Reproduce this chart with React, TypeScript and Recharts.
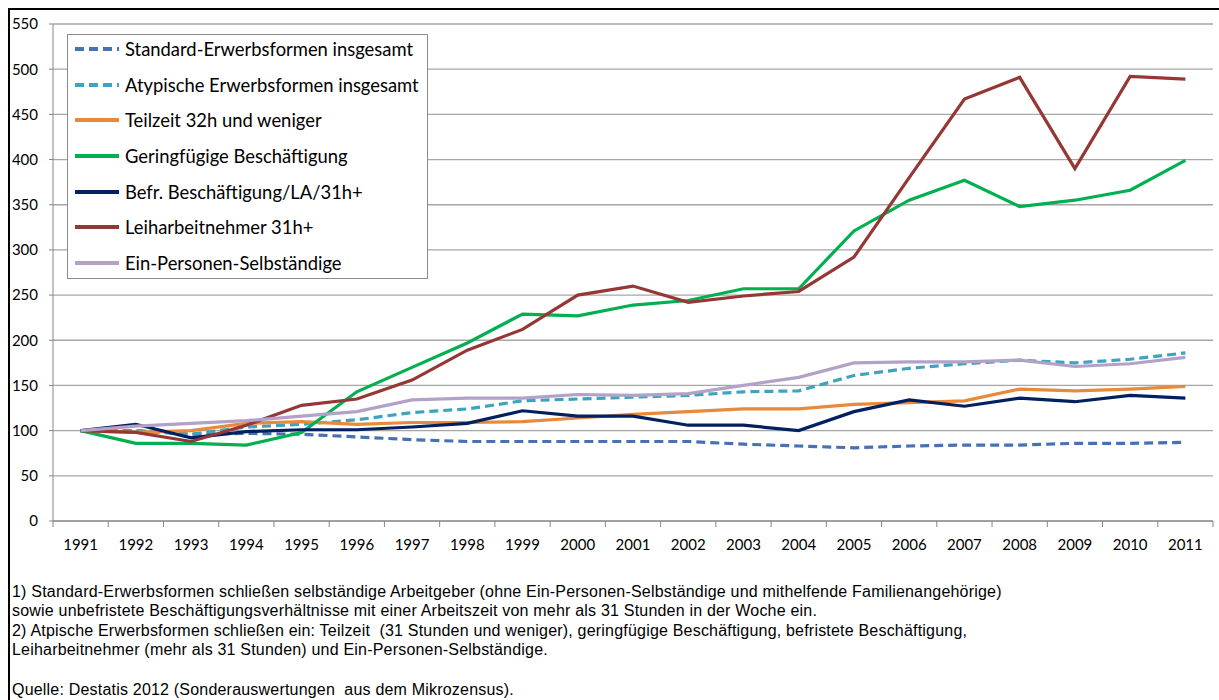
import React from 'react';
import { LineChart, Line, XAxis, YAxis, CartesianGrid } from 'recharts';

const years = ['1991','1992','1993','1994','1995','1996','1997','1998','1999','2000','2001','2002','2003','2004','2005','2006','2007','2008','2009','2010','2011'];

const standard = [100,100,96,97,96,93,90,88,88,88,88,88,85,83,81,83,84,84,86,86,87];
const atypisch = [100,100,96,104,107,112,120,124,133,135,137,139,143,144,161,169,174,178,175,179,186];
const teilzeit = [100,98,100,108,110,107,109,109,110,114,118,121,124,124,129,131,133,146,144,146,149];
const geringfuegig = [100,86,86,84,98,143,170,197,229,227,239,244,257,257,321,355,377,348,355,366,399];
const befristet = [100,107,92,99,101,101,104,108,122,116,116,106,106,100,121,134,127,136,132,139,136];
const leiharbeit = [100,98,88,106,128,135,156,189,212,250,260,242,249,254,292,380,467,491,390,492,489];
const einPersonen = [100,105,108,111,116,121,134,136,136,140,139,141,150,159,175,176,176,178,171,174,181];

const seriesNames = [
  'Standard-Erwerbsformen insgesamt',
  'Atypische Erwerbsformen insgesamt',
  'Teilzeit 32h und weniger',
  'Geringfügige Beschäftigung',
  'Befr. Beschäftigung/LA/31h+',
  'Leiharbeitnehmer 31h+',
  'Ein-Personen-Selbständige',
];
const seriesValues = [standard, atypisch, teilzeit, geringfuegig, befristet, leiharbeit, einPersonen];
const seriesColors = ['#4672B4', '#3FA3BE', '#E8893B', '#00B050', '#002060', '#953735', '#B3A2C7'];
const seriesDashed = [true, true, false, false, false, false, false];

const yTicks = [0, 50, 100, 150, 200, 250, 300, 350, 400, 450, 500, 550];

const footnoteLines = [
  '1) Standard-Erwerbsformen schließen selbständige Arbeitgeber (ohne Ein-Personen-Selbständige und mithelfende Familienangehörige)',
  'sowie unbefristete Beschäftigungsverhältnisse mit einer Arbeitszeit von mehr als 31 Stunden in der Woche ein.',
  '2) Atpische Erwerbsformen schließen ein: Teilzeit  (31 Stunden und weniger), geringfügige Beschäftigung, befristete Beschäftigung,',
  'Leiharbeitnehmer (mehr als 31 Stunden) und Ein-Personen-Selbständige.',
];
const sourceLine = 'Quelle: Destatis 2012 (Sonderauswertungen  aus dem Mikrozensus).';

const data = years.map((year, i) => {
  const row: Record<string, number | string> = { x: i + 0.5, year };
  seriesValues.forEach((vals, k) => {
    row['s' + k] = vals[i];
  });
  return row;
});

const AXIS_GREY = '#868686';
const GRID_GREY = '#A6A6A6';
const FONT = "Lato, 'Open Sans', sans-serif";

const XTick = (props: any) => {
  const { x, y, payload, index } = props;
  const w = typeof props.width === 'number' && props.width > 0 ? props.width : 1160;
  const half = w / years.length / 2;
  const label = years[Math.floor(payload.value)];
  return (
    <g>
      <line x1={x - half} y1={y} x2={x - half} y2={y + 6} stroke={AXIS_GREY} strokeWidth={1} />
      {index === years.length - 1 && (
        <line x1={x + half} y1={y} x2={x + half} y2={y + 6} stroke={AXIS_GREY} strokeWidth={1} />
      )}
      <text x={x} y={y + 29} textAnchor="middle" fontFamily={FONT} fontSize={15} fill="#000">
        {label}
      </text>
    </g>
  );
};

const LegendBox = () => (
  <div
    style={{
      position: 'absolute',
      left: 67,
      top: 34,
      width: 361,
      height: 245,
      boxSizing: 'border-box',
      border: '1px solid #8C8C8C',
      background: '#fff',
      paddingTop: 2,
      paddingLeft: 6,
    }}
  >
    {seriesNames.map((name, i) => (
      <div key={name} style={{ display: 'flex', alignItems: 'center', height: 24, marginBottom: 11.7 }}>
        <svg width={46} height={6} style={{ display: 'block' }}>
          <line
            x1={1}
            y1={3}
            x2={45}
            y2={3}
            stroke={seriesColors[i]}
            strokeWidth={4}
            strokeDasharray={seriesDashed[i] ? '9 5' : undefined}
          />
        </svg>
        <span
          style={{
            marginLeft: 5,
            fontFamily: FONT,
            fontSize: 18.4,
            color: '#000',
            whiteSpace: 'nowrap',
          }}
        >
          {name}
        </span>
      </div>
    ))}
  </div>
);

const noteStyle: React.CSSProperties = {
  position: 'absolute',
  left: 12,
  fontFamily: "'Liberation Sans', Arial, sans-serif",
  fontSize: 16,
  letterSpacing: 0.2,
  lineHeight: '19px',
  color: '#000',
  whiteSpace: 'pre',
};

export default function App() {
  return (
    <div style={{ position: 'absolute', left: 0, top: 0, width: 1219, height: 700, background: '#fff', overflow: 'hidden' }}>
      <div
        style={{
          position: 'absolute',
          left: 8,
          top: 8,
          width: 1300,
          height: 800,
          borderLeft: '2px solid #000',
          borderTop: '2px solid #000',
        }}
      />
      <div style={{ position: 'absolute', left: 0, top: 0 }}>
        <LineChart width={1219} height={560} data={data} margin={{ top: 24, right: 6, bottom: 0, left: 0 }}>
          <CartesianGrid vertical={false} stroke={GRID_GREY} strokeWidth={1.3} />
          <XAxis
            type="number"
            dataKey="x"
            domain={[0, years.length]}
            ticks={years.map((_, i) => i + 0.5)}
            interval={0}
            tickLine={false}
            tickSize={0}
            tickMargin={0}
            height={39}
            stroke={AXIS_GREY}
            tick={<XTick />}
            allowDataOverflow
          />
          <YAxis
            type="number"
            domain={[0, 550]}
            ticks={yTicks}
            interval={0}
            width={53}
            tickSize={4}
            tickMargin={11}
            stroke={AXIS_GREY}
            tick={{ fontSize: 15, fill: '#000', fontFamily: FONT }}
          />
          {seriesNames.map((name, i) => (
            <Line
              key={name}
              name={name}
              type="linear"
              dataKey={'s' + i}
              stroke={seriesColors[i]}
              strokeWidth={3.2}
              strokeDasharray={seriesDashed[i] ? '9 5' : undefined}
              dot={false}
              activeDot={false}
              isAnimationActive={false}
            />
          ))}
        </LineChart>
      </div>
      <LegendBox />
      {footnoteLines.map((line, i) => (
        <div key={i} style={{ ...noteStyle, top: 582 + i * 19.4 }}>
          {line}
        </div>
      ))}
      <div style={{ ...noteStyle, top: 680 }}>{sourceLine}</div>
    </div>
  );
}
